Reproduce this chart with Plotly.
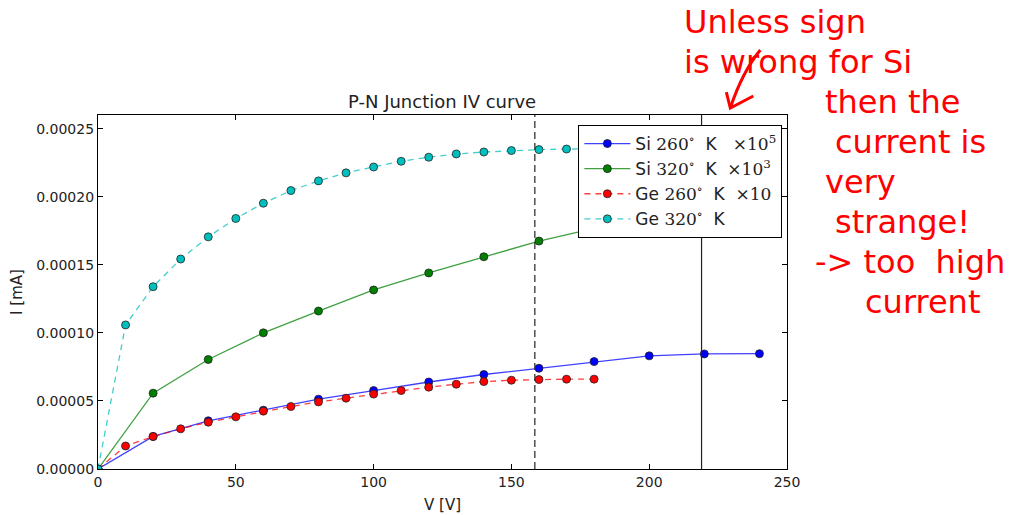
import plotly.graph_objects as go

# ---------------- data ----------------
V_si = [0, 20, 40, 60, 80, 100, 120, 140, 160, 180, 200, 220, 240]
I_si260 = [0, 2.39e-5, 3.54e-5, 4.32e-5, 5.13e-5, 5.76e-5, 6.39e-5, 6.94e-5,
           7.40e-5, 7.89e-5, 8.31e-5, 8.45e-5, 8.47e-5]
I_si320 = [0, 5.57e-5, 8.04e-5, 1.00e-4, 1.16e-4, 1.315e-4, 1.44e-4, 1.559e-4,
           1.674e-4, 1.767e-4, 1.83e-4, 1.88e-4, 1.92e-4]

V_ge = [0, 10, 20, 30, 40, 50, 60, 70, 80, 90, 100, 110, 120, 130, 140, 150, 160, 170, 180]
I_ge260 = [0, 1.69e-5, 2.39e-5, 2.95e-5, 3.44e-5, 3.83e-5, 4.25e-5, 4.59e-5, 4.93e-5,
           5.20e-5, 5.50e-5, 5.76e-5, 6.01e-5, 6.23e-5, 6.42e-5, 6.52e-5, 6.57e-5,
           6.60e-5, 6.60e-5]
I_ge320 = [0, 1.058e-4, 1.339e-4, 1.542e-4, 1.705e-4, 1.840e-4, 1.952e-4, 2.045e-4,
           2.116e-4, 2.175e-4, 2.218e-4, 2.260e-4, 2.290e-4, 2.314e-4, 2.328e-4,
           2.339e-4, 2.346e-4, 2.350e-4, 2.352e-4]

V_dashed_line = 158.5
V_solid_line = 219

x_ticks = [0, 50, 100, 150, 200, 250]
y_ticks = [0, 0.00005, 0.0001, 0.00015, 0.0002, 0.00025]

SERIF = "font-family:DejaVu Serif"
series_names = [
    f"Si <span style='{SERIF}'>260<sup>∘</sup></span>  K   <span style='{SERIF}'>×10<sup>5</sup></span>",
    f"Si <span style='{SERIF}'>320<sup>∘</sup></span>  K  <span style='{SERIF}'>×10<sup>3</sup></span>",
    f"Ge <span style='{SERIF}'>260<sup>∘</sup></span>  K  <span style='{SERIF}'>×10</span>",
    f"Ge <span style='{SERIF}'>320<sup>∘</sup></span>  K",
]

note_lines = ["Unless sign", "is wrong for Si", "then the", "current is", "very",
              "strange!", "->\u00a0too\u00a0\u00a0high", "current"]

# ---------------- layout geometry (screen pixels of the reference) ----------------
OFF = 8                      # page body margin of the browser
FW, FH = 1011 - OFF, 515 - OFF
L, R, T, B = 97.5, 786.7, 115, 469.3


def px2x(px):
    return (px - L) / (R - L)


def py2y(py):
    return (B - py) / (B - T)


fig = go.Figure()

styles = [
    (V_si, I_si260, "rgba(0,0,255,0.75)", "#0000ff", "solid"),
    (V_si, I_si320, "rgba(0,128,0,0.75)", "#008000", "solid"),
    (V_ge, I_ge260, "rgba(255,0,0,0.75)", "#ff0000", "6px,5px"),
    (V_ge, I_ge320, "rgba(0,191,191,0.75)", "#00bfbf", "6px,5px"),
]
for i, ((xs, ys, lc, mc, dash), name) in enumerate(zip(styles, series_names)):
    fig.add_trace(go.Scatter(
        x=xs, y=ys, mode="lines+markers", name=name, legendgroup=f"g{i}",
        line=dict(color=lc, width=1.3, dash=dash),
        marker=dict(color=mc, size=8, line=dict(color="#222", width=0.8)),
    ))

# vertical reference lines
fig.add_shape(type="line", x0=V_dashed_line, x1=V_dashed_line, y0=0, y1=1,
              xref="x", yref="paper", line=dict(color="#333", width=1.3, dash="7px,4px"))
fig.add_shape(type="line", x0=V_solid_line, x1=V_solid_line, y0=0, y1=1,
              xref="x", yref="paper", line=dict(color="#222", width=1.2))

# handwritten-style note
note_pos = [(682, 33), (682, 73), (823, 113), (833, 153), (823, 193), (833, 233),
            (813, 273), (863, 313)]
for txt, (px, py) in zip(note_lines, note_pos):
    fig.add_annotation(text=txt, xref="paper", yref="paper", x=px2x(px), y=py2y(py - 11),
                       xanchor="left", yanchor="middle", showarrow=False,
                       font=dict(family="DejaVu Sans", size=32, color="#ff0000"))


# hand-drawn arrow
def pt(px, py):
    return f"{px2x(px):.5f},{py2y(py):.5f}"


fig.add_shape(type="path", xref="paper", yref="paper",
              path=f"M {pt(760, 50)} Q {pt(742, 72)} {pt(730, 108)}",
              line=dict(color="#ff0000", width=3))
fig.add_shape(type="path", xref="paper", yref="paper",
              path=f"M {pt(726, 92)} L {pt(730, 108)} L {pt(753, 96)}",
              line=dict(color="#ff0000", width=3))

axis_common = dict(
    showline=True, linecolor="black", linewidth=1.2, mirror="ticks",
    ticks="inside", ticklen=5, tickcolor="black", tickwidth=1,
    showgrid=False, zeroline=False,
    tickfont=dict(family="DejaVu Sans", size=14, color="#222"),
)

fig.update_layout(
    width=FW, height=FH,
    margin=dict(l=L - OFF, r=FW - (R - OFF), t=T - OFF, b=FH - (B - OFF), autoexpand=False),
    paper_bgcolor="white", plot_bgcolor="white",
    title=dict(text="P-N Junction IV curve", x=((L + R) / 2 - OFF) / FW, xanchor="center",
               y=1 - (101.5 - OFF) / FH, yanchor="middle",
               font=dict(family="DejaVu Sans", size=18, color="#222")),
    xaxis=dict(range=[0, 250], tickvals=x_ticks, ticktext=[str(v) for v in x_ticks],
               title=dict(text="V [V]", standoff=10,
                          font=dict(family="DejaVu Sans", size=15, color="#222")),
               **axis_common),
    yaxis=dict(range=[0, 0.00026], tickvals=y_ticks,
               ticktext=[f"{v:.5f}" for v in y_ticks],
               title=dict(text="I [mA]", standoff=10,
                          font=dict(family="DejaVu Sans", size=15, color="#222")),
               **axis_common),
    legend=dict(x=px2x(578), y=py2y(125), xanchor="left", yanchor="top",
                bgcolor="white", bordercolor="black", borderwidth=1,
                font=dict(family="DejaVu Sans", size=17, color="#222"),
                itemwidth=46, traceorder="grouped", tracegroupgap=0),
    showlegend=True,
)

fig.write_html("out.html")
